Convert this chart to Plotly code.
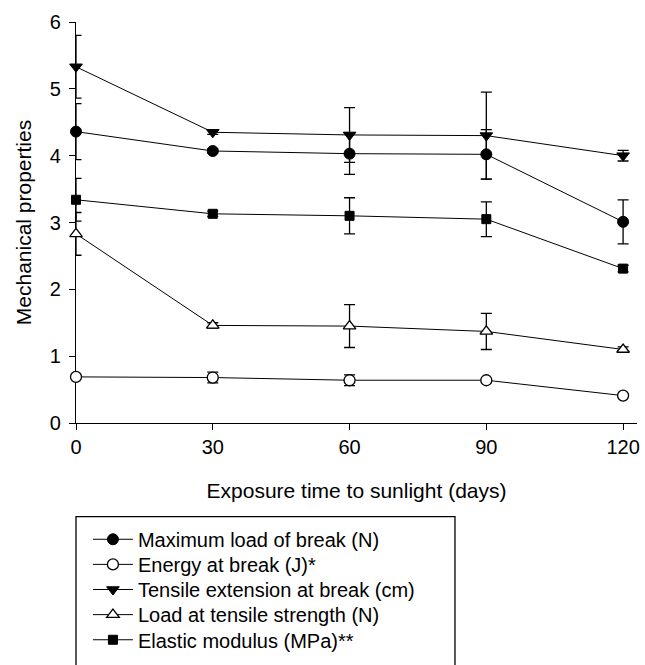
import plotly.graph_objects as go

days = [0, 30, 60, 90, 120]

max_load = [4.36, 4.07, 4.03, 4.02, 3.01]
max_load_err = [0.42, 0.03, 0.31, 0.37, 0.33]

energy = [0.69, 0.68, 0.64, 0.64, 0.41]
energy_err = [0.02, 0.08, 0.08, 0.02, 0.02]

tensile_ext = [5.33, 4.35, 4.31, 4.30, 4.00]
tensile_ext_err = [0.47, 0.03, 0.41, 0.65, 0.08]

load_ts = [2.83, 1.46, 1.45, 1.37, 1.10]
load_ts_err = [0.32, 0.04, 0.32, 0.27, 0.04]

elastic = [3.34, 3.13, 3.10, 3.05, 2.31]
elastic_err = [0.32, 0.04, 0.27, 0.26, 0.05]

names = [
    "Maximum load of break (N)",
    "Energy at break (J)*",
    "Tensile extension at break (cm)",
    "Load at tensile strength (N)",
    "Elastic modulus (MPa)**",
]

FONT = "Arial, Liberation Sans, sans-serif"

series = [
    (max_load, max_load_err, dict(symbol="circle", size=11, color="black", line=dict(color="black", width=1))),
    (energy, energy_err, dict(symbol="circle", size=11, color="white", line=dict(color="black", width=1.3))),
    (tensile_ext, tensile_ext_err, dict(symbol="triangle-down", size=11, color="black", line=dict(color="black", width=1))),
    (load_ts, load_ts_err, dict(symbol="triangle-up", size=11, color="white", line=dict(color="black", width=1.3))),
    (elastic, elastic_err, dict(symbol="square", size=9, color="black", line=dict(color="black", width=1))),
]

# plot area geometry (px) used to place paper-referenced legend rows
PLOT_TOP, PLOT_BOTTOM, PLOT_LEFT, PLOT_RIGHT = 22, 429, 76, 640
PH = PLOT_BOTTOM - PLOT_TOP
PW = PLOT_RIGHT - PLOT_LEFT
row_centers_px = [547, 572.5, 598, 623.5, 649]

fig = go.Figure()
legend_layouts = {}
for i, (name, (vals, errs, mk)) in enumerate(zip(names, series)):
    lname = "legend" if i == 0 else f"legend{i + 1}"
    fig.add_trace(go.Scatter(
        x=days, y=vals, name=name, mode="lines+markers",
        line=dict(color="black", width=1),
        marker=mk,
        error_y=dict(type="data", array=errs, visible=True, color="black", thickness=1.3, width=5.5),
        cliponaxis=False,
        legend=lname,
    ))
    legend_layouts[lname] = dict(
        x=(88 - PLOT_LEFT) / PW, y=(PLOT_BOTTOM - row_centers_px[i]) / PH,
        xanchor="left", yanchor="middle",
        bgcolor="rgba(0,0,0,0)", borderwidth=0,
        font=dict(family=FONT, size=20, color="black"),
        itemwidth=40,
    )

fig.update_layout(
    width=645, height=665,
    margin=dict(l=PLOT_LEFT, r=645 - PLOT_RIGHT, t=PLOT_TOP, b=665 - PLOT_BOTTOM),
    paper_bgcolor="white", plot_bgcolor="white",
    font=dict(family=FONT, size=20, color="black"),
    showlegend=True,
    xaxis=dict(
        range=[0, 123.05], tickvals=days, ticktext=[str(d) for d in days],
        showline=True, linecolor="black", linewidth=1.3, showgrid=False, zeroline=False,
        ticks="outside", ticklen=6, tickwidth=1.3, tickcolor="black",
        tickfont=dict(family=FONT, size=20), layer="below traces",
        title=dict(text="Exposure time to sunlight (days)", font=dict(family=FONT, size=21), standoff=26),
    ),
    yaxis=dict(
        range=[0, 6], tickvals=[0, 1, 2, 3, 4, 5, 6],
        showline=True, linecolor="black", linewidth=1.3, showgrid=False, zeroline=False,
        ticks="outside", ticklen=6, tickwidth=1.3, tickcolor="black",
        tickfont=dict(family=FONT, size=20), layer="below traces",
        ticklabelstandoff=4,
        title=dict(text="Mechanical properties", font=dict(family=FONT, size=21), standoff=12),
    ),
    shapes=[dict(
        type="rect", xref="paper", yref="paper",
        x0=0.0, x1=(457 - PLOT_LEFT) / PW, y0=(PLOT_BOTTOM - 700) / PH, y1=(PLOT_BOTTOM - 524) / PH,
        line=dict(color="black", width=1.3), fillcolor="rgba(0,0,0,0)",
    )],
    **legend_layouts,
)

fig.write_html("out.html")
